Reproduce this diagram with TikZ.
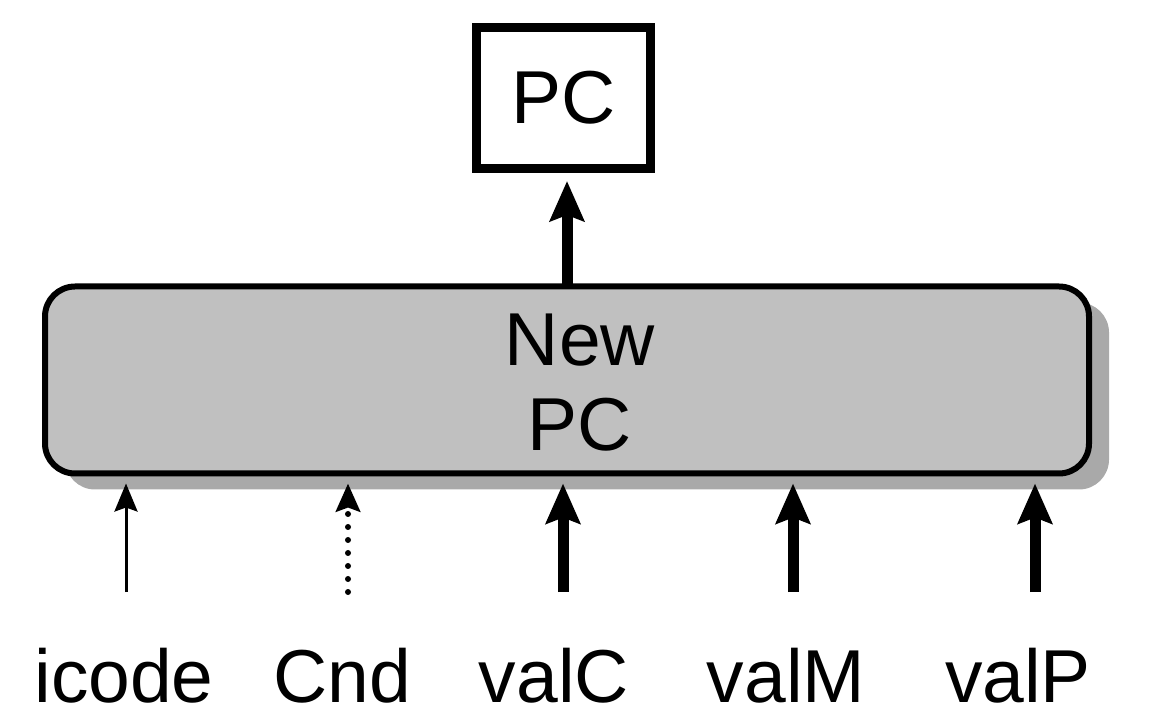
\documentclass[tikz,border=0pt]{standalone}
\usepackage{fontspec}
\setmainfont{Liberation Sans}
\usetikzlibrary{arrows.meta,calc,shadows}
\definecolor{boxgray}{HTML}{C0C0C0}
\definecolor{shadowgray}{HTML}{A9A9A9}
\begin{document}
\begin{tikzpicture}[x=0.5pt,y=-0.5pt,
  lbl/.style={font=\fontsize{37.5}{42.5}\selectfont, inner sep=0pt},
  pcbox/.style={draw, line width=4.5pt, minimum width=87pt, minimum height=70.5pt, inner sep=0pt, fill=white},
  bigbox/.style={draw, line width=3pt, fill=boxgray, rounded corners=15pt, minimum width=522pt, minimum height=93.5pt, inner sep=0pt,
    drop shadow={shadow xshift=10pt, shadow yshift=-8pt, fill=shadowgray, opacity=1}},
  thickarrow/.style={line width=5.5pt, -{Stealth[length=20pt,width=17pt,inset=3pt]}},
  thinarrow/.style={line width=1.5pt, -{Stealth[length=14pt,width=11.5pt,inset=2pt]}},
  dotarrow/.style={line width=3pt, line cap=round, dash pattern=on 0pt off 6.5pt, -{Stealth[length=14pt,width=12pt,inset=2pt]}},
]
\useasboundingbox (0,0) rectangle (1156,726);

% boxes
\node[pcbox, lbl] (pc) at (563.5,98) {PC};
\node[bigbox] (newpc) at (567,380) {};
\node[lbl, align=center] (newpctext) at (580,382.5) {New\\PC};

% output arrow
\coordinate (pcout) at (567,287);
\draw[thickarrow, shorten >=4pt] (pcout) -- (pcout |- pc.south);

% input start points
\coordinate (s1) at (126,592);
\coordinate (s2) at (348,592);
\coordinate (s3) at (563,592);
\coordinate (s4) at (793,592);
\coordinate (s5) at (1035,592);

\draw[thinarrow, shorten >=3.5pt] (s1) -- (s1 |- newpc.south);
\draw[dotarrow, shorten >=3.5pt] (s2) -- (s2 |- newpc.south);
\draw[thickarrow, shorten >=3.5pt] (s3) -- (s3 |- newpc.south);
\draw[thickarrow, shorten >=3.5pt] (s4) -- (s4 |- newpc.south);
\draw[thickarrow, shorten >=3.5pt] (s5) -- (s5 |- newpc.south);

% labels
\node[lbl, anchor=base] (licode) at (124,702) {icode};
\node[lbl, anchor=base] (lcnd) at (342,702) {Cnd};
\node[lbl, anchor=base] (lvalc) at (554,702) {valC};
\node[lbl, anchor=base] (lvalm) at (786,702) {valM};
\node[lbl, anchor=base] (lvalp) at (1018,702) {valP};
\end{tikzpicture}
\end{document}
